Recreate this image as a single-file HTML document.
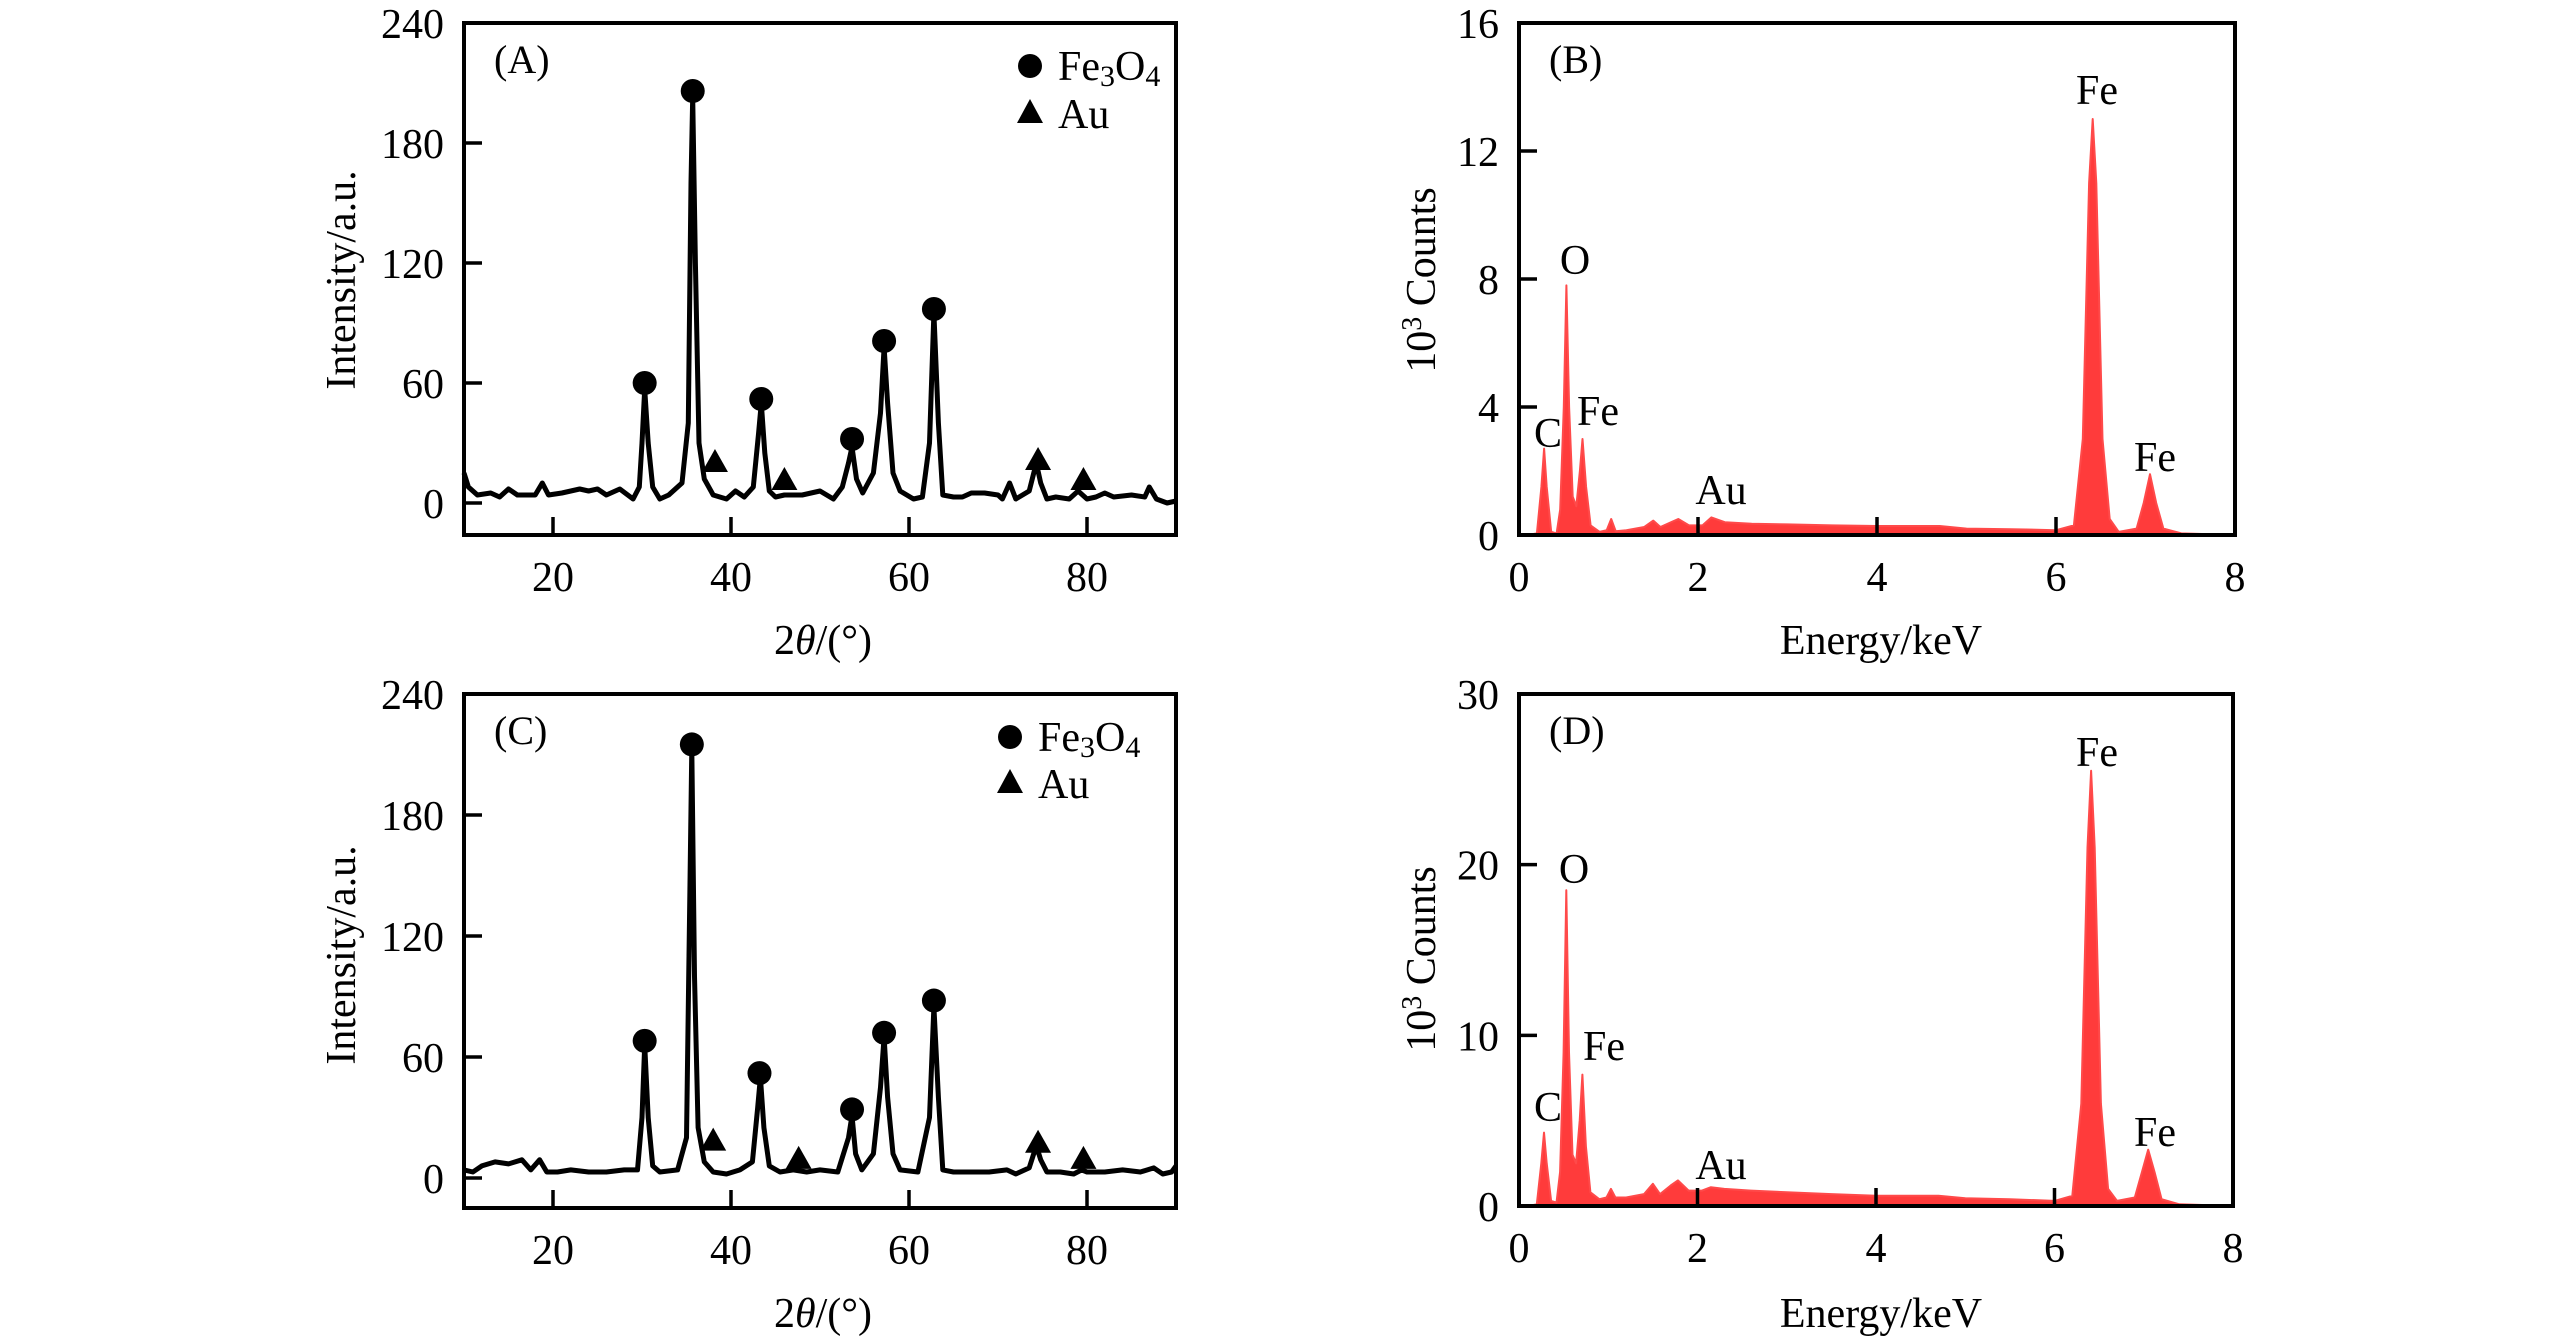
<!DOCTYPE html>
<html><head><meta charset="utf-8"><style>
html,body{margin:0;padding:0;background:#fff;}
svg{display:block;}
text{font-family:"Liberation Serif","DejaVu Serif",serif;fill:#000;}
</style></head><body>
<svg id="fig" width="2567" height="1339" viewBox="0 0 2567 1339" xmlns="http://www.w3.org/2000/svg"></svg>
<script>
// ---------- XRD (A) ----------
const xrdAx=[10,10.5,11.5,13,14,15,16,18,18.8,19.5,21,23,24,25,26,27.5,29,29.7,30.0,30.3,30.7,31.2,32,33,34.5,35.2,35.5,35.7,36,36.4,37,38,39.5,40.5,41.5,42.5,43.1,43.4,43.8,44.3,45,46,48,50,51.5,52.5,53.2,53.6,54.1,54.8,56,56.8,57.2,57.6,58.2,59,60.5,61.5,62.3,62.8,63.3,63.8,65,66,67,68.5,70,70.5,71.3,72,73.5,74.3,74.8,75.5,76.5,78,79,80,81,82,83,85,86.5,87,87.8,89,90];
const xrdAy=[15,8,4,5,3,7,4,4,10,4,5,7,6,7,4,7,2,8,30,57,30,8,2,4,10,40,160,203,120,30,12,4,2,6,3,8,35,50,25,6,3,4,4,6,2,8,20,28,12,5,15,45,78,50,15,6,2,3,30,95,40,4,3,3,5,5,4,2,10,2,6,20,10,2,3,2,6,2,3,5,3,4,3,8,2,0,1];
const feA_x=[30.3,35.7,43.4,53.6,57.2,62.8];
const feA_y=[60,206,52,32,81,97];
const auA_x=[38.2,46,74.5,79.6];
const auA_y=[21,12,22,12];
// ---------- XRD (C) ----------
const xrdCx=[10,11,12,13.5,15,16.5,17.5,18.5,19.3,20.5,22,24,26,28,29.5,30.0,30.3,30.7,31.2,32,34,35.0,35.4,35.6,35.9,36.3,37,38,39.5,41,42.4,43.0,43.3,43.7,44.3,45.5,47,48.5,50,52,53.2,53.6,54.0,54.7,56,56.8,57.2,57.6,58.2,59,61,62.3,62.8,63.3,63.8,65,67,69,71,72,73.5,74.3,74.8,75.5,77,78.5,79.4,80,82,84,86,87.5,88.5,89.5,90];
const xrdCy=[4,3,6,8,7,9,4,9,3,3,4,3,3,4,4,30,66,30,6,3,4,20,150,213,100,25,8,3,2,4,8,35,50,25,6,3,4,3,4,3,20,31,12,4,12,45,70,40,12,4,3,30,85,40,4,3,3,3,4,2,5,16,9,3,3,2,4,3,3,4,3,5,2,3,6];
const feC_x=[30.3,35.6,43.2,53.6,57.2,62.8];
const feC_y=[68,215,52,34,72,88];
const auC_x=[38,47.6,74.5,79.6];
const auC_y=[19,10,18,10];
// ---------- EDS (B) ----------
const edsBx=[0.1,0.2,0.25,0.28,0.31,0.36,0.42,0.46,0.5,0.53,0.56,0.6,0.64,0.68,0.71,0.75,0.8,0.9,0.98,1.03,1.08,1.2,1.4,1.5,1.58,1.7,1.78,1.9,2.05,2.15,2.3,2.6,3,3.5,4,4.7,5,5.5,6,6.2,6.3,6.37,6.41,6.45,6.52,6.6,6.7,6.9,6.98,7.05,7.12,7.2,7.4,8];
const edsBy=[0,0.05,1.5,2.7,1.5,0.1,0.05,0.8,4,7.8,4,1.2,0.9,2,3.0,1.5,0.3,0.1,0.15,0.5,0.12,0.15,0.25,0.45,0.25,0.4,0.5,0.3,0.3,0.55,0.4,0.35,0.33,0.3,0.28,0.28,0.2,0.18,0.15,0.3,3,11,13,11,3,0.5,0.1,0.2,1,1.9,1,0.2,0.05,0];
// ---------- EDS (D) ----------
const edsDx=[0.1,0.2,0.25,0.28,0.31,0.36,0.42,0.46,0.5,0.53,0.56,0.6,0.64,0.68,0.71,0.75,0.8,0.9,0.98,1.03,1.08,1.2,1.4,1.5,1.58,1.7,1.78,1.9,2.05,2.15,2.3,2.6,3,3.5,4,4.7,5,5.5,6,6.2,6.3,6.37,6.41,6.45,6.52,6.6,6.7,6.9,6.98,7.05,7.12,7.2,7.4,8];
const edsDy=[0,0.1,2.5,4.3,2.5,0.3,0.2,2,9,18.5,9,3,2.5,5,7.7,3.5,0.8,0.4,0.5,1.0,0.5,0.5,0.7,1.3,0.7,1.2,1.5,0.9,0.9,1.1,1.0,0.9,0.8,0.7,0.6,0.6,0.45,0.4,0.3,0.6,6,21,25.5,21,6,1,0.3,0.5,2,3.3,2,0.4,0.1,0];

const xTicksXRD=[20,40,60,80];
const yTicksXRD=[0,60,120,180,240];
const xTicksEDS=[0,2,4,6,8];
const yTicksB=[0,4,8,12,16];
const yTicksD=[0,10,20,30];

const NS="http://www.w3.org/2000/svg";
const svg=document.getElementById('fig');
function el(tag,attrs,parent){const e=document.createElementNS(NS,tag);for(const k in attrs)e.setAttribute(k,attrs[k]);(parent||svg).appendChild(e);return e;}
function txt(x,y,s,size,anchor,parent){const t=el('text',{x:x,y:y,'font-size':size,'text-anchor':anchor||'start'},parent);t.textContent=s;return t;}

function panel(cfg){
  const g=el('g',{});
  
  
  const X=v=>cfg.L+(v-cfg.xmin)/(cfg.xmax-cfg.xmin)*(cfg.R-cfg.L);
  const Y=v=>cfg.y0-(v-cfg.ymin)/(cfg.ymax-cfg.ymin)*(cfg.y0-cfg.ytop);
  let d='';
  cfg.xs.forEach((v,i)=>{d+=(i?'L':'M')+X(v).toFixed(1)+' '+Y(cfg.ys[i]).toFixed(1);});
  if(cfg.fill){
    d+='L'+X(cfg.xs[cfg.xs.length-1]).toFixed(1)+' '+Y(0)+'L'+X(cfg.xs[0]).toFixed(1)+' '+Y(0)+'Z';
    const p=el('path',{d:d,fill:'#ff3b3b',stroke:'#ff4a4a','stroke-width':2,'stroke-linejoin':'round'},g);
    
    
  } else {
    const p=el('path',{d:d,fill:'none',stroke:'#000','stroke-width':5,'stroke-linejoin':'round'},g);
    
    
  }
  if(cfg.circX){
    cfg.circX.forEach((v,i)=>{const c=el('circle',{cx:X(v),cy:Y(cfg.circY[i]),r:12,fill:'#000'},g);
      
      });
    cfg.triX.forEach((v,i)=>{const x=X(v),y=Y(cfg.triY[i]);const t=el('polygon',{points:`${x-13},${y+11} ${x+13},${y+11} ${x},${y-12}`,fill:'#000'},g);
      
      });
  }
  const f=el('rect',{x:cfg.L,y:cfg.ytop,width:cfg.R-cfg.L,height:cfg.B-cfg.ytop,fill:'none',stroke:'#000','stroke-width':4},g);
  
  
  cfg.xt.forEach(v=>{const x=X(v);
    if(v>cfg.xmin&&v<cfg.xmax) el('line',{x1:x,x2:x,y1:cfg.B,y2:cfg.B-18,stroke:'#000','stroke-width':3.5},g);
    const t=txt(x,cfg.B+56,String(v),42,'middle',g);
    
    });
  cfg.yt.forEach(v=>{const y=Y(v);
    if(y>cfg.ytop+2&&y<cfg.B-2) el('line',{x1:cfg.L,x2:cfg.L+18,y1:y,y2:y,stroke:'#000','stroke-width':3.5},g);
    const t=txt(cfg.L-20,y+15,String(v),42,'end',g);
    
    });
  const tl=txt(cfg.L+30,cfg.ytop+50,cfg.tag,40,'start',g);
  
  
  return {g,X,Y};
}

const A=panel({name:'panel-a-xrd',L:464,R:1176,ytop:23,B:535,y0:503,xmin:10,xmax:90,ymin:0,ymax:240,xs:xrdAx,ys:xrdAy,circX:feA_x,circY:feA_y,triX:auA_x,triY:auA_y,xt:xTicksXRD,yt:yTicksXRD,tag:'(A)'});
const C=panel({name:'panel-c-xrd',L:464,R:1176,ytop:694,B:1208,y0:1178,xmin:10,xmax:90,ymin:0,ymax:240,xs:xrdCx,ys:xrdCy,circX:feC_x,circY:feC_y,triX:auC_x,triY:auC_y,xt:xTicksXRD,yt:yTicksXRD,tag:'(C)'});
const B=panel({name:'panel-b-eds',L:1519,R:2235,ytop:23,B:535,y0:535,xmin:0,xmax:8,ymin:0,ymax:16,xs:edsBx,ys:edsBy,fill:true,xt:xTicksEDS,yt:yTicksB,tag:'(B)'});
const D=panel({name:'panel-d-eds',L:1519,R:2233,ytop:694,B:1206,y0:1206,xmin:0,xmax:8,ymin:0,ymax:30,xs:edsDx,ys:edsDy,fill:true,xt:xTicksEDS,yt:yTicksD,tag:'(D)'});

function legend(g,cx,y1,y2){
  const c=el('circle',{cx:cx,cy:y1-14,r:12,fill:'#000'},g);
  
  
  const t=el('text',{x:cx+28,y:y1,'font-size':42},g);
  t.innerHTML='Fe<tspan font-size="30" dy="6">3</tspan><tspan dy="-6">O</tspan><tspan font-size="30" dy="6">4</tspan>';
  
  
  const tr=el('polygon',{points:`${cx-13},${y2-5} ${cx+13},${y2-5} ${cx},${y2-29}`,fill:'#000'},g);
  
  
  const a=txt(cx+28,y2,'Au',42,'start',g);
  
  
}
legend(A.g,1030,80,128);
legend(C.g,1010,751,798);

function lab(p,x,y,s){const t=txt(x,y,s,42,'middle',p.g);
  
  }
lab(B,2097,104,'Fe');lab(B,1575,274,'O');lab(B,1548,447,'C');lab(B,1598,425,'Fe');lab(B,1721,504,'Au');lab(B,2155,471,'Fe');
lab(D,2097,766,'Fe');lab(D,1574,883,'O');lab(D,1548,1121,'C');lab(D,1604,1060,'Fe');lab(D,1721,1179,'Au');lab(D,2155,1146,'Fe');

function ytitle(x,y,content,name){const t=el('text',{x:0,y:0,'font-size':42,'text-anchor':'middle',transform:`translate(${x},${y}) rotate(-90)`});
  t.innerHTML=content;
  
  }
function xtitle(x,y,content,name){const t=el('text',{x:x,y:y,'font-size':42,'text-anchor':'middle'});
  t.innerHTML=content;
  
  }
ytitle(355,280,'Intensity/a.u.','y-axis-title-a');
ytitle(355,955,'Intensity/a.u.','y-axis-title-c');
ytitle(1435,280,'10<tspan font-size="28" dy="-14">3</tspan><tspan dy="14"> Counts</tspan>','y-axis-title-b');
ytitle(1435,959,'10<tspan font-size="28" dy="-14">3</tspan><tspan dy="14"> Counts</tspan>','y-axis-title-d');
xtitle(823,654,'2<tspan font-style="italic">θ</tspan>/(°)','x-axis-title-a');
xtitle(823,1327,'2<tspan font-style="italic">θ</tspan>/(°)','x-axis-title-c');
xtitle(1881,654,'Energy/keV','x-axis-title-b');
xtitle(1881,1327,'Energy/keV','x-axis-title-d');
</script>
</body></html>
